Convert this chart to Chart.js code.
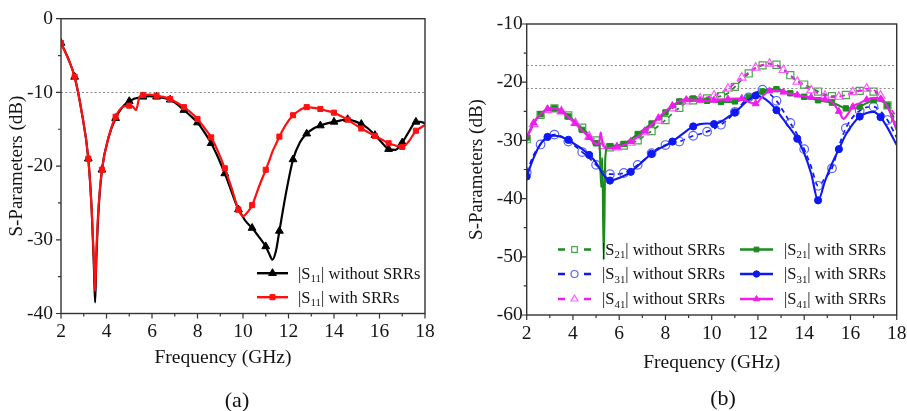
<!DOCTYPE html>
<html><head><meta charset="utf-8">
<script src="https://cdn.jsdelivr.net/npm/chart.js@4/dist/chart.umd.min.js"></script>
<style>
html,body{margin:0;padding:0;background:#fff;}
#wrap{position:relative;width:907px;height:411px;overflow:hidden;background:#fff;}
#ca{position:absolute;left:0;top:0;}
#cb{position:absolute;left:460px;top:0;}
.lbl{position:absolute;font-family:"Liberation Serif","Times New Roman",serif;color:#111;white-space:nowrap;transform:translate(-50%,-50%);}
</style></head>
<body><div id="wrap">
<canvas id="ca" width="460" height="411"></canvas>
<canvas id="cb" width="447" height="411"></canvas>
<div class="lbl" style="left:223px;top:357px;font-size:19.5px">Frequency (GHz)</div>
<div class="lbl" style="left:237px;top:400px;font-size:22px">(a)</div>
<div class="lbl" style="left:723px;top:398px;font-size:22px">(b)</div>
</div>
<script>
// ---------- DATA ----------
const xTickLabels = [2, 4, 6, 8, 10, 12, 14, 16, 18];
const yTicksA = [0, -10, -20, -30, -40];
const yTicksB = [-10, -20, -30, -40, -50, -60];
const refLinesA = [-10];
const refLinesB = [-17, -21];

const labelsA = ['|S₁₁| without SRRs', '|S₁₁| with SRRs'];
const labelsB = ['|S₂₁| without SRRs', '|S₃₁| without SRRs', '|S₄₁| without SRRs',
                 '|S₂₁| with SRRs', '|S₃₁| with SRRs', '|S₄₁| with SRRs'];

// Panel (a)
const freqA = [2.0,2.3,2.6,2.9,3.2,3.35,3.45,3.5,3.55,3.65,3.8,4.1,4.4,4.7,5.0,5.15,5.3,5.45,5.6,5.9,
  6.2,6.5,6.8,7.1,7.4,7.7,8.0,8.3,8.6,8.9,9.2,9.5,9.8,10.0,10.1,10.4,10.7,11.0,11.15,11.3,
  11.45,11.6,11.9,12.2,12.5,12.8,13.1,13.4,13.7,14.0,14.3,14.6,14.9,15.2,15.5,15.8,16.1,16.4,16.7,17.0,
  17.3,17.6,17.8,18.0];
const s11Without = [-3.3,-5.3,-7.9,-12.5,-19,-26,-34,-38.5,-33,-26,
  -20.5,-16,-13.5,-12,-11.2,-10.95,-10.8,-10.7,-10.6,-10.5,
  -10.6,-10.75,-11.0,-11.6,-12.4,-13.2,-14.1,-15.4,-16.9,-18.8,
  -21,-23.5,-25.9,-26.9,-27.4,-28.4,-29.6,-30.9,-31.9,-32.7,
  -31.5,-28.8,-23.5,-19.1,-16.8,-15.6,-14.9,-14.5,-14.2,-14.0,
  -13.8,-13.65,-13.9,-14.3,-14.9,-15.8,-16.8,-17.7,-17.8,-16.8,
  -15.3,-14.0,-14.0,-14.2];
const s11With = [-3.3,-5.3,-7.9,-12.5,-19,-26,-33,-37,-32,-25.5,
  -20.5,-16,-13.3,-12.0,-11.8,-11.9,-12.4,-10.6,-10.35,-10.3,
  -10.45,-10.6,-10.9,-11.4,-12.0,-12.7,-13.6,-14.8,-16.1,-18.0,
  -20.3,-23,-25.9,-26.8,-26.6,-25.3,-22.8,-20.5,-19.3,-18.0,
  -17.0,-16.0,-14.3,-13.1,-12.4,-12.0,-12.1,-12.25,-12.5,-12.75,
  -13.2,-13.7,-14.3,-14.9,-15.4,-15.9,-16.4,-16.9,-17.2,-17.4,
  -16.6,-15.2,-14.8,-14.4];

// Panel (b)
const freqB = [2.0,2.3,2.6,2.9,3.2,3.5,3.8,4.1,4.4,4.7,5.0,5.3,5.6,5.9,6.2,6.5,6.8,7.1,7.4,7.7,
  8.0,8.3,8.6,8.9,9.2,9.5,9.8,10.1,10.4,10.7,11.0,11.3,11.6,11.9,12.2,12.5,12.8,13.1,13.4,13.7,
  14.0,14.3,14.6,14.9,15.2,15.5,15.8,16.1,16.4,16.7,17.0,17.3,17.6,18.0];
const s21Without = [-29.8,-27.0,-25.6,-24.8,-24.5,-24.9,-25.7,-26.8,-27.8,-29.0,
  -30.0,-30.8,-31.2,-31.1,-30.9,-30.6,-30.0,-29.2,-28.4,-27.5,
  -26.5,-25.4,-24.4,-23.5,-23.1,-22.9,-22.8,-22.6,-22.4,-21.9,
  -20.8,-19.6,-18.5,-17.6,-17.1,-16.8,-17.0,-17.8,-18.8,-19.7,
  -20.4,-21.0,-21.6,-22.1,-22.4,-22.4,-22.2,-21.8,-21.5,-21.4,
  -21.6,-22.5,-24.0,-27.0];
const s31Without = [-35.5,-32.5,-30.7,-29.5,-29.0,-29.3,-30.2,-31.0,-32.0,-33.0,
  -34.2,-35.3,-35.8,-35.8,-35.6,-35.0,-34.2,-33.3,-32.2,-31.3,
  -30.8,-30.5,-30.2,-29.7,-29.2,-28.9,-28.5,-28.0,-27.3,-26.4,
  -25.1,-23.8,-22.6,-21.8,-21.3,-22.0,-23.2,-25.0,-27.0,-29.0,
  -31.5,-34.5,-37.8,-36.5,-34.8,-31.0,-27.9,-26.0,-24.9,-24.3,
  -24.2,-25.0,-26.5,-29.5];
const s41Without = [-30.0,-27.2,-25.6,-24.8,-24.6,-25.0,-25.9,-27.0,-28.1,-29.3,
  -30.3,-31.0,-31.3,-31.2,-30.9,-30.4,-29.6,-28.6,-27.6,-26.6,
  -25.5,-24.5,-23.8,-23.3,-23.0,-22.8,-22.6,-22.3,-21.8,-21.1,
  -20.2,-19.2,-18.3,-17.5,-17.0,-16.8,-17.1,-17.9,-18.9,-19.9,
  -20.7,-21.4,-21.9,-22.3,-22.6,-22.5,-22.2,-21.7,-21.4,-21.1,
  -21.3,-22.3,-23.8,-26.0];
const s31With = [-36.2,-33.0,-30.6,-29.4,-29.2,-29.4,-29.9,-30.7,-31.5,-32.5,
  -33.8,-35.8,-36.9,-36.6,-36.1,-35.4,-34.4,-33.3,-32.3,-31.5,
  -30.9,-30.2,-29.3,-28.4,-27.6,-27.2,-27.1,-27.2,-26.8,-26.0,
  -25.2,-24.1,-23.0,-22.3,-22.6,-23.5,-24.8,-26.4,-28.0,-29.7,
  -32.2,-35.7,-40.3,-37.0,-34.0,-31.5,-29.0,-27.2,-25.9,-25.3,
  -25.1,-26.0,-27.8,-30.8];
const freqS21With = [2.0,2.3,2.6,2.9,3.2,3.5,3.8,4.1,4.4,4.7,5.0,
  5.15,5.22,5.27,5.33,5.4,5.48,
  5.6,5.9,6.2,6.5,6.8,7.1,7.4,7.7,8.0,8.3,
  8.6,8.9,9.2,9.5,9.8,10.1,10.4,10.7,11.0,11.3,
  11.6,11.9,12.2,12.5,12.8,13.1,13.4,13.7,14.0,14.3,
  14.6,14.9,15.2,15.5,15.8,16.1,16.4,16.7,17.0,17.3,17.6,18.0];
const s21With = [-29.5,-27.0,-25.5,-24.7,-24.5,-24.9,-25.9,-27.0,-28.2,-29.4,-30.5,
  -30.8,-38.0,-33.0,-50.5,-33.0,-31.2,
  -31.0,-30.9,-30.6,-29.8,-28.9,-28.0,-27.1,-26.2,-25.2,-24.2,
  -23.3,-22.9,-22.8,-22.9,-23.2,-23.3,-23.4,-23.4,-23.3,-23.0,
  -22.6,-22.1,-21.6,-21.2,-21.2,-21.5,-21.9,-22.2,-22.5,-22.8,
  -23.1,-23.3,-23.5,-24.0,-24.5,-24.5,-24.2,-23.6,-23.1,-23.2,-24.0,-28.2];
const freqS41With = [2.0,2.3,2.6,2.9,3.2,3.5,3.8,4.1,4.4,4.7,5.0,
  5.12,5.2,5.28,5.4,
  5.6,5.9,6.2,6.5,6.8,7.1,7.4,7.7,8.0,8.3,
  8.6,8.9,9.2,9.5,9.8,10.1,10.4,10.7,11.0,11.3,
  11.6,11.9,12.2,12.5,12.8,13.1,13.4,13.7,14.0,14.3,
  14.6,14.9,15.2,15.5,15.7,15.9,16.1,16.4,16.7,17.0,
  17.3,17.6,18.0];
const s41With = [-29.6,-27.0,-25.5,-24.6,-24.5,-25.0,-26.0,-27.1,-28.3,-29.5,-30.6,
  -30.6,-28.6,-30.6,-31.2,
  -31.3,-31.1,-30.8,-30.2,-29.4,-28.4,-27.3,-26.1,-25.0,-24.0,
  -23.3,-23.0,-23.0,-23.1,-23.2,-23.1,-23.0,-22.9,-22.8,-22.8,
  -23.4,-23.7,-22.4,-21.5,-21.4,-21.7,-22.0,-22.2,-22.4,-22.6,
  -22.8,-23.0,-23.4,-25.0,-26.3,-25.4,-24.2,-23.6,-23.0,-22.7,
  -22.9,-24.2,-28.2];

// ---------- HELPERS ----------
const FONT = '"Liberation Serif","Times New Roman",serif';
const TEXT = '#141414';
const AXIS = '#333';
const xy = (fs, vs) => fs.map((f, i) => ({x: f, y: vs[i]}));

function markerRadius(ctx) {
  const ds = ctx.dataset, p = ctx.raw;
  if (!p) return 0;
  const k = (p.x - ds.markStart) / ds.markStep;
  return (k > -1e-6 && Math.abs(k - Math.round(k)) < 1e-3) ? ds.markerR : 0;
}

function drawMarker(ctx, style, x, y, r, fill, stroke, bw) {
  ctx.save();
  ctx.setLineDash([]);
  ctx.beginPath();
  if (style === 'circle') {
    ctx.arc(x, y, r, 0, Math.PI * 2);
  } else if (style === 'rect') {
    const s = r * Math.SQRT1_2;
    ctx.rect(x - s, y - s, 2 * s, 2 * s);
  } else if (style === 'triangle') {
    ctx.moveTo(x, y - r);
    ctx.lineTo(x + r * 0.866, y + r * 0.5);
    ctx.lineTo(x - r * 0.866, y + r * 0.5);
    ctx.closePath();
  }
  ctx.fillStyle = fill; ctx.fill();
  ctx.lineWidth = bw; ctx.strokeStyle = stroke; ctx.stroke();
  ctx.restore();
}

function drawRich(ctx, text, x, y, size, color) {
  const subs = '₀₁₂₃₄₅₆₇₈₉';
  const runs = []; let cur = {sub: false, t: ''};
  for (const ch of text) {
    const i = subs.indexOf(ch);
    const isSub = i >= 0;
    const c = isSub ? String(i) : ch;
    if (isSub !== cur.sub) { if (cur.t) runs.push(cur); cur = {sub: isSub, t: ''}; }
    cur.t += c;
  }
  if (cur.t) runs.push(cur);
  ctx.save();
  ctx.fillStyle = color; ctx.textAlign = 'left'; ctx.textBaseline = 'alphabetic';
  let cx = x; const base = y + size * 0.33;
  runs.forEach(r => {
    const fs = r.sub ? size * 0.66 : size;
    ctx.font = fs + 'px ' + FONT;
    ctx.fillText(r.t, cx, r.sub ? base + size * 0.2 : base);
    cx += ctx.measureText(r.t).width;
  });
  ctx.restore();
}

const frameTicks = {
  id: 'frameTicks',
  beforeDatasetsDraw(chart, args, opts) {
    const {ctx, chartArea: ca} = chart; const ys = chart.scales.y;
    ctx.save();
    ctx.strokeStyle = '#8a8a8a'; ctx.lineWidth = 1.2; ctx.setLineDash([2, 2.2]);
    opts.refLines.forEach(v => {
      const py = Math.round(ys.getPixelForValue(v)) + 0.5;
      ctx.beginPath(); ctx.moveTo(ca.left, py); ctx.lineTo(ca.right, py); ctx.stroke();
    });
    ctx.restore();
  },
  afterDatasetsDraw(chart, args, opts) {
    const {ctx, chartArea: ca} = chart; const xs = chart.scales.x, ys = chart.scales.y;
    ctx.save();
    ctx.strokeStyle = AXIS; ctx.lineWidth = 1.4; ctx.setLineDash([]);
    ctx.strokeRect(ca.left, ca.top, ca.right - ca.left, ca.bottom - ca.top);
    ctx.lineWidth = 1.2;
    const xm = opts.xMajor, ym = opts.yMajor;
    ctx.beginPath();
    xm.forEach((v, i) => {
      const px = xs.getPixelForValue(v);
      ctx.moveTo(px, ca.bottom); ctx.lineTo(px, ca.bottom + 5);
      if (i < xm.length - 1) {
        const pm = xs.getPixelForValue((v + xm[i + 1]) / 2);
        ctx.moveTo(pm, ca.bottom); ctx.lineTo(pm, ca.bottom + 3);
      }
    });
    ym.forEach((v, i) => {
      const py = ys.getPixelForValue(v);
      ctx.moveTo(ca.left, py); ctx.lineTo(ca.left - 5, py);
      if (i < ym.length - 1) {
        const pm = ys.getPixelForValue((v + ym[i + 1]) / 2);
        ctx.moveTo(ca.left, pm); ctx.lineTo(ca.left - 3, pm);
      }
    });
    ctx.stroke();
    ctx.restore();
  }
};

const subLegend = {
  id: 'subLegend',
  afterDraw(chart, args, opts) {
    const {ctx, chartArea: ca} = chart;
    opts.items.forEach(it => {
      const ds = chart.data.datasets[it.ds];
      const x0 = ca.left + it.dx, y0 = ca.top + it.dy, L = opts.lineLen;
      ctx.save();
      ctx.strokeStyle = ds.borderColor; ctx.lineWidth = opts.lineWidth;
      ctx.beginPath();
      if (ds.borderDash && ds.borderDash.length) {
        ctx.moveTo(x0, y0); ctx.lineTo(x0 + 7, y0);
        ctx.moveTo(x0 + L - 7, y0); ctx.lineTo(x0 + L, y0);
      } else {
        ctx.moveTo(x0, y0); ctx.lineTo(x0 + L, y0);
      }
      ctx.stroke();
      ctx.restore();
      drawMarker(ctx, ds.pointStyle, x0 + L / 2, y0, ds.legendR || ds.markerR,
        ds.pointBackgroundColor, ds.pointBorderColor, ds.pointBorderWidth);
      drawRich(ctx, ds.label, x0 + L + opts.gap, y0, opts.size, TEXT);
    });
  }
};

function yScale(ticksArr, min, max, width, tickPad) {
  return {
    type: 'linear', min: min, max: max,
    afterBuildTicks: s => { s.ticks = [...ticksArr].sort((a, b) => a - b).map(v => ({value: v})); },
    afterFit: s => { s.width = width; s.paddingTop = 0; s.paddingBottom = 0; },
    grid: {display: false, drawTicks: false}, border: {display: false},
    ticks: {padding: tickPad, color: TEXT, font: {family: FONT, size: 19.5}, callback: v => String(v)},
    title: {display: true, text: 'S-Parameters (dB)', color: TEXT, font: {family: FONT, size: 19}, padding: {top: 6, bottom: 0}}
  };
}
function xScale(height, withTitle) {
  return {
    type: 'linear', min: 2, max: 18,
    afterBuildTicks: s => { s.ticks = xTickLabels.map(v => ({value: v})); },
    afterFit: s => { s.height = height; s.paddingLeft = 0; s.paddingRight = 0; },
    grid: {display: false, drawTicks: false}, border: {display: false},
    ticks: {padding: 7, color: TEXT, font: {family: FONT, size: 19.5}, maxRotation: 0, autoSkip: false, callback: v => String(v)},
    title: {display: withTitle, text: 'Frequency (GHz)', color: TEXT, font: {family: FONT, size: 19.5}, padding: {top: 0, bottom: 0}}
  };
}

const common = {
  responsive: false, animation: false, events: [],
  elements: {line: {cubicInterpolationMode: 'monotone', fill: false}},
};

// ---------- PANEL (a) ----------
new Chart(document.getElementById('ca'), {
  type: 'line',
  data: {datasets: [
    {label: labelsA[0], data: xy(freqA, s11Without), borderColor: '#000', backgroundColor: '#000', borderWidth: 2.2,
     pointStyle: 'triangle', pointBackgroundColor: '#000', pointBorderColor: '#000', pointBorderWidth: 1,
     markerR: 4.5, markStart: 2, markStep: 0.6, pointRadius: markerRadius, order: 2},
    {label: labelsA[1], data: xy(freqA, s11With), borderColor: '#ff1010', backgroundColor: '#ff1010', borderWidth: 2.2,
     pointStyle: 'rect', pointBackgroundColor: '#ff1010', pointBorderColor: '#ff1010', pointBorderWidth: 1,
     markerR: 3.6, markStart: 2, markStep: 0.6, pointRadius: markerRadius, order: 1}
  ]},
  options: Object.assign({}, common, {
    layout: {padding: {left: 0, top: 18.7, right: 35, bottom: 411 - 313.5 - 30}},
    scales: {x: xScale(30, false), y: yScale(yTicksA, -40, 0, 61, 8)},
    plugins: {
      legend: {display: false}, tooltip: {enabled: false},
      frameTicks: {xMajor: xTickLabels, yMajor: [...yTicksA].sort((a, b) => a - b), refLines: refLinesA},
      subLegend: {lineLen: 31, gap: 10, lineWidth: 2.4, size: 16.5,
        items: [{ds: 0, dx: 196, dy: 254.5}, {ds: 1, dx: 196, dy: 278.5}]}
    }
  }),
  plugins: [frameTicks, subLegend]
});

// ---------- PANEL (b) ----------
const cG = '#1b8c1b', cGo = '#4aa64a', cB = '#0d18f2', cBo = '#5b63ff', cM = '#f01cf0', cMo = '#ff5cff';
new Chart(document.getElementById('cb'), {
  type: 'line',
  data: {datasets: [
    {label: labelsB[0], data: xy(freqB, s21Without), borderColor: cG, borderWidth: 1.7, borderDash: [5, 4],
     pointStyle: 'rect', pointBackgroundColor: 'rgba(255,255,255,0)', pointBorderColor: cGo, pointBorderWidth: 1.2,
     markerR: 5, legendR: 4, markStart: 2, markStep: 0.6, pointRadius: markerRadius, order: 6},
    {label: labelsB[1], data: xy(freqB, s31Without), borderColor: cB, borderWidth: 1.7, borderDash: [5, 4],
     pointStyle: 'circle', pointBackgroundColor: 'rgba(255,255,255,0)', pointBorderColor: cBo, pointBorderWidth: 1.2,
     markerR: 4.3, legendR: 3.5, markStart: 2, markStep: 0.6, pointRadius: markerRadius, order: 5},
    {label: labelsB[2], data: xy(freqB, s41Without), borderColor: cM, borderWidth: 1.7, borderDash: [5, 4],
     pointStyle: 'triangle', pointBackgroundColor: 'rgba(255,255,255,0)', pointBorderColor: cMo, pointBorderWidth: 1.2,
     markerR: 5, legendR: 4, markStart: 2.3, markStep: 0.6, pointRadius: markerRadius, order: 4},
    {label: labelsB[3], data: xy(freqS21With, s21With), borderColor: cG, borderWidth: 2.1,
     pointStyle: 'rect', pointBackgroundColor: cG, pointBorderColor: cG, pointBorderWidth: 1,
     markerR: 3.8, legendR: 3.4, markStart: 2, markStep: 0.6, pointRadius: markerRadius, order: 3},
    {label: labelsB[4], data: xy(freqB, s31With), borderColor: cB, borderWidth: 2.1,
     pointStyle: 'circle', pointBackgroundColor: cB, pointBorderColor: cB, pointBorderWidth: 1,
     markerR: 3.6, legendR: 3.2, markStart: 2, markStep: 0.9, pointRadius: markerRadius, order: 2},
    {label: labelsB[5], data: xy(freqS41With, s41With), borderColor: cM, borderWidth: 2.1,
     pointStyle: 'triangle', pointBackgroundColor: cM, pointBorderColor: cM, pointBorderWidth: 1,
     markerR: 4, legendR: 3.5, markStart: 2.3, markStep: 0.6, pointRadius: markerRadius, order: 1}
  ]},
  options: Object.assign({}, common, {
    layout: {padding: {left: 0, top: 24, right: 10.3, bottom: 36}},
    scales: {x: xScale(60, true), y: yScale(yTicksB, -60, -10, 66.7, 4)},
    plugins: {
      legend: {display: false}, tooltip: {enabled: false},
      frameTicks: {xMajor: xTickLabels, yMajor: [...yTicksB].sort((a, b) => a - b), refLines: refLinesB},
      subLegend: {lineLen: 33, gap: 11, lineWidth: 2.3, size: 16.5,
        items: [{ds: 0, dx: 31.3, dy: 225.5}, {ds: 1, dx: 31.3, dy: 250}, {ds: 2, dx: 31.3, dy: 275},
                {ds: 3, dx: 213.3, dy: 225.5}, {ds: 4, dx: 213.3, dy: 250}, {ds: 5, dx: 213.3, dy: 275}]}
    }
  }),
  plugins: [frameTicks, subLegend]
});
</script>
</body></html>
